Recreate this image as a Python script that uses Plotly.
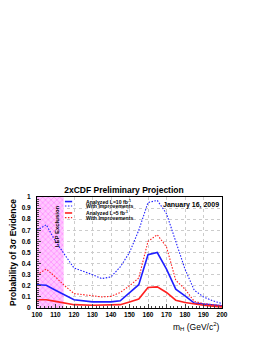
import plotly.graph_objects as go

mass = [100, 105, 110, 115, 120, 130, 135, 140, 145, 150, 155, 160, 165, 170, 175, 180, 185, 190, 195, 200]
l10 = [0.21, 0.205, 0.16, 0.115, 0.075, 0.055, 0.055, 0.055, 0.065, 0.14, 0.21, 0.48, 0.50, 0.35, 0.17, 0.11, 0.045, 0.035, 0.027, 0.02]
l10_imp = [0.70, 0.75, 0.60, 0.48, 0.36, 0.30, 0.265, 0.28, 0.37, 0.50, 0.70, 0.95, 0.97, 0.85, 0.60, 0.35, 0.16, 0.10, 0.065, 0.04]
l5 = [0.075, 0.075, 0.06, 0.045, 0.03, 0.025, 0.025, 0.025, 0.03, 0.055, 0.08, 0.185, 0.19, 0.14, 0.07, 0.05, 0.035, 0.025, 0.017, 0.01]
l5_imp = [0.30, 0.35, 0.28, 0.20, 0.13, 0.11, 0.10, 0.105, 0.14, 0.20, 0.27, 0.60, 0.66, 0.55, 0.25, 0.17, 0.06, 0.04, 0.03, 0.02]
lep_x = [100, 114.4, 114.4, 100, 100]
lep_y = [0, 0, 1, 1, 0]

series_names = ["Analyzed L=10 fb<sup>-1</sup>", "With Improvements",
                "Analyzed L=5 fb<sup>-1</sup>", "With Improvements"]

BLUE = "#1f1fff"
RED = "#ff2020"
FONT = "Liberation Sans, Arial, sans-serif"
DOT = "1.5px,1.5px"

styles = [dict(color=BLUE, width=1.6, dash="solid"), dict(color=BLUE, width=1.1, dash=DOT),
          dict(color=RED, width=1.6, dash="solid"), dict(color=RED, width=1.1, dash=DOT)]
series = [l10, l10_imp, l5, l5_imp]

fig = go.Figure()
fig.add_trace(go.Scatter(x=lep_x, y=lep_y, mode="lines", fill="toself",
                         line=dict(width=0, color="rgba(0,0,0,0)"),
                         fillcolor="#ffb0ff",
                         fillpattern=dict(shape="x", fgcolor="#ff40ff", bgcolor="#ffc8ff", size=4, solidity=0.3),
                         showlegend=False, hoverinfo="skip"))
for name, vals, st in zip(series_names, series, styles):
    fig.add_trace(go.Scatter(x=mass, y=vals, mode="lines", name=name, line=st, showlegend=False))

# compact legend drawn in paper coordinates
leg_y = [0.959, 0.919, 0.856, 0.814]
for name, st, yy in zip(series_names, styles, leg_y):
    fig.add_shape(type="line", xref="paper", yref="paper", x0=0.151, x1=0.19, y0=yy, y1=yy,
                  line=dict(color=st["color"], width=st["width"], dash=st["dash"]))
    fig.add_annotation(x=0.255, y=yy, xref="paper", yref="paper", text="<b>" + name + "</b>",
                       xanchor="left", yanchor="middle", showarrow=False,
                       font=dict(size=5.1, color="black", family=FONT))

fig.add_annotation(x=110.5, y=0.74, xref="x", yref="y", text="<b>LEP Exclusion</b>", textangle=-90,
                   showarrow=False, font=dict(size=6, color="black", family=FONT))
fig.add_annotation(x=0.995, y=0.985, xref="paper", yref="paper", text="<b>January 16, 2009</b>",
                   xanchor="right", yanchor="top", showarrow=False, font=dict(size=7, color="black", family=FONT))
fig.add_annotation(x=1.0, y=-0.17, xref="paper", yref="paper", text="m<sub>H</sub> (GeV/c<sup>2</sup>)",
                   xanchor="right", yanchor="middle", showarrow=False, font=dict(size=8.5, color="black", family=FONT))

# page body has an 8px default margin, so the figure is sized to fit inside the window
fig.update_layout(
    width=259, height=337,
    margin=dict(l=29, r=45, t=189, b=37, autoexpand=False),
    paper_bgcolor="white", plot_bgcolor="white",
    font=dict(family=FONT, color="black"),
    title=dict(text="<b>2xCDF Preliminary Projection</b>", x=0.47, xref="paper", y=1, yref="paper",
               yanchor="bottom", pad=dict(b=4), font=dict(size=8.5, family=FONT)),
    xaxis=dict(range=[100, 200], dtick=10, showgrid=True, gridcolor="#cccccc", griddash="dot", gridwidth=0.6,
               showline=True, linecolor="black", linewidth=1, mirror=True, ticks="inside", ticklen=4,
               tickfont=dict(size=6.5, family=FONT, weight="bold"), zeroline=False, automargin=False,
               minor=dict(ticks="inside", ticklen=2, dtick=2, showgrid=False)),
    yaxis=dict(range=[0, 1], dtick=0.1, showgrid=True, gridcolor="#cccccc", griddash="dot", gridwidth=0.6,
               showline=True, linecolor="black", linewidth=1, mirror=True, ticks="inside", ticklen=4,
               tickfont=dict(size=6.5, family=FONT, weight="bold"), zeroline=False, tickformat="~g",
               ticklabelstandoff=4, automargin=False,
               title=dict(text="<b>Probability of 3σ Evidence</b>", font=dict(size=8.5, family=FONT), standoff=4),
               minor=dict(ticks="inside", ticklen=2, dtick=0.02, showgrid=False)),
)

fig.write_html("out.html")
